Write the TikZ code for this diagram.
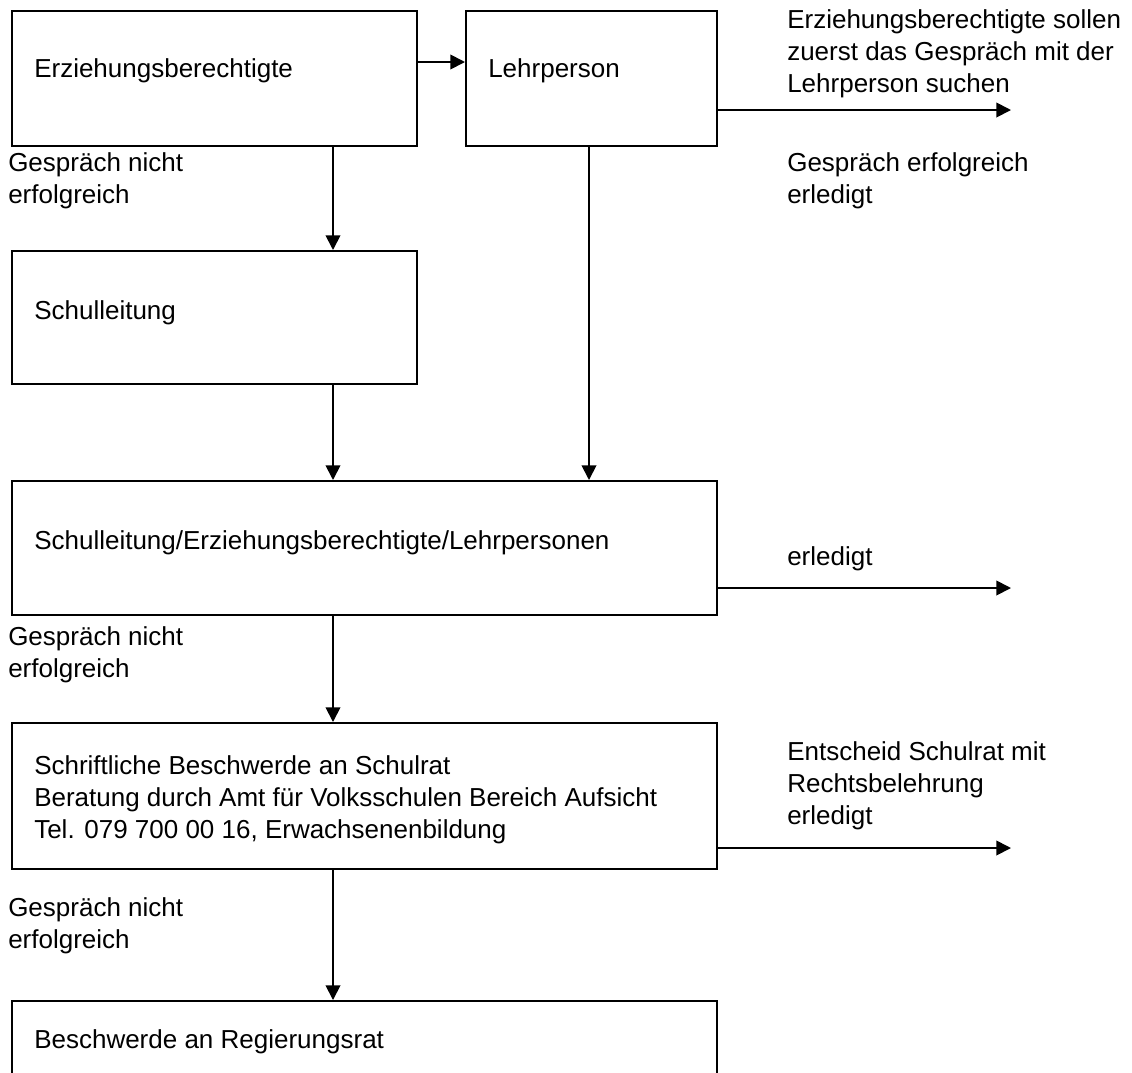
\documentclass[tikz,border=0pt]{standalone}
\usepackage{fontspec}
\setmainfont{Liberation Sans}
\usetikzlibrary{arrows.meta}
\tikzset{
  x=0.75pt, y=-0.75pt,
  box/.style={draw, line width=1.35pt, rectangle, inner sep=0pt, anchor=north west},
  txt/.style={anchor=base west, inner sep=0pt, align=left, font=\fontsize{19.5}{23.8}\selectfont},
  conn/.style={line width=1.35pt, -{Triangle[length=11pt,width=11pt]}}
}
\begin{document}
\begin{tikzpicture}
\useasboundingbox (0,0) rectangle (1132,1072);
\fill[white] (0,0) rectangle (1132,1072);
\clip (0,0) rectangle (1132,1072);

% boxes
\node[box, minimum width=405*0.75pt, minimum height=135*0.75pt] (b1) at (11,10) {};
\node[box, minimum width=251*0.75pt, minimum height=135*0.75pt] (b2) at (465,10) {};
\node[box, minimum width=405*0.75pt, minimum height=133*0.75pt] (b3) at (11,250) {};
\node[box, minimum width=705*0.75pt, minimum height=134*0.75pt] (b4) at (11,480) {};
\node[box, minimum width=705*0.75pt, minimum height=146*0.75pt] (b5) at (11,722) {};
\node[box, minimum width=705*0.75pt, minimum height=90*0.75pt] (b6) at (11,1000) {};

% box texts (anchor = baseline of last line)
\node[txt] (t1) at (34,77) {Erziehungsberechtigte};
\node[txt] (t2) at (488,77) {Lehrperson};
\node[txt] (t3) at (34,319) {Schulleitung};
\node[txt] (t4) at (34,549) {Schulleitung/Erziehungsberechtigte/Lehrpersonen};
\node[txt] (t5) at (34,838) {Schriftliche Beschwerde an Schulrat\\Beratung durch Amt f\"ur Volksschulen Bereich Aufsicht\\Tel. 079 700 00 16, Erwachsenenbildung};
\node[txt] (t6) at (34,1048) {Beschwerde an Regierungsrat};

% side labels
\node[txt] (l1) at (787,92) {Erziehungsberechtigte sollen\\zuerst das Gespr\"ach mit der\\Lehrperson suchen};
\node[txt] (l2) at (787,203) {Gespr\"ach erfolgreich\\erledigt};
\node[txt] (l3) at (8,203) {Gespr\"ach nicht\\erfolgreich};
\node[txt] (l4) at (787,565) {erledigt};
\node[txt] (l5) at (8,677) {Gespr\"ach nicht\\erfolgreich};
\node[txt] (l6) at (787,824) {Entscheid Schulrat mit\\Rechtsbelehrung\\erledigt};
\node[txt] (l7) at (8,948) {Gespr\"ach nicht\\erfolgreich};

% free ends
\coordinate (e1) at (1011,110);
\coordinate (e2) at (1011,588);
\coordinate (e3) at (1011,848);

% connectors
\draw[conn] (b1.east |- 0,62) -- (b2.west |- 0,62);
\draw[conn] (b2.east |- 0,110) -- (e1);
\draw[conn] (b1.south -| 333,0) -- (b3.north -| 333,0);
\draw[conn] (b3.south -| 333,0) -- (b4.north -| 333,0);
\draw[conn] (b2.south -| 589,0) -- (b4.north -| 589,0);
\draw[conn] (b4.east |- 0,588) -- (e2);
\draw[conn] (b4.south -| 333,0) -- (b5.north -| 333,0);
\draw[conn] (b5.east |- 0,848) -- (e3);
\draw[conn] (b5.south -| 333,0) -- (b6.north -| 333,0);
\end{tikzpicture}
\end{document}
